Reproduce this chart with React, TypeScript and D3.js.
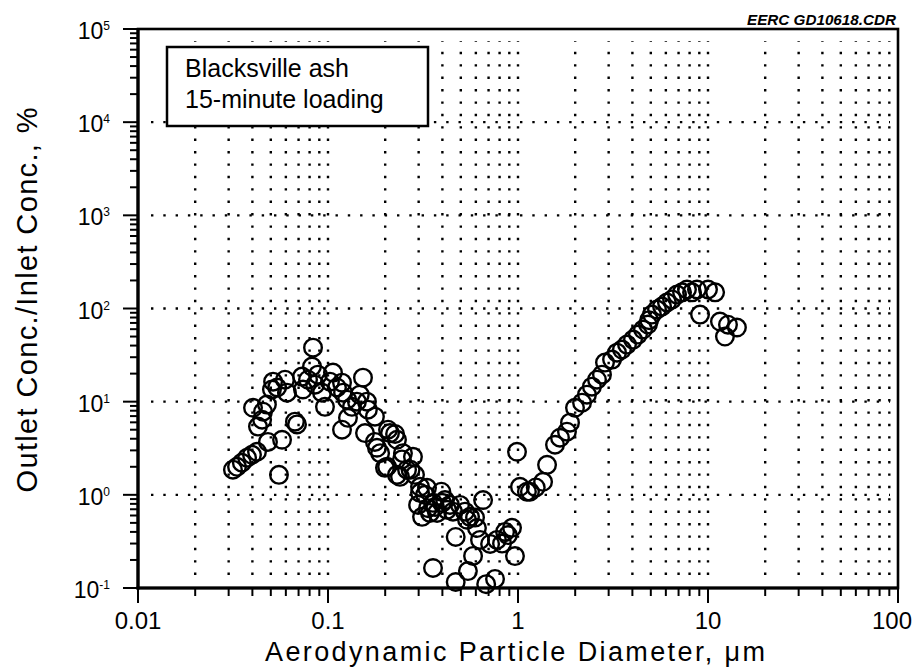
import React from "react";
import * as d3 from "d3";

// Penetration (outlet/inlet concentration) versus aerodynamic particle diameter
const diameterUm: number[] = [
  0.0316, 0.0332, 0.0352, 0.0375, 0.0398, 0.0423, 0.0403, 0.0455, 0.0477, 0.0428,
  0.045, 0.0483, 0.0573, 0.0552, 0.0514, 0.054, 0.0507, 0.0594, 0.0608, 0.067,
  0.0687, 0.073, 0.0738, 0.0785, 0.0834, 0.0824, 0.0855, 0.0885, 0.093, 0.0964,
  0.1024, 0.1062, 0.1115, 0.1185, 0.12, 0.126, 0.1185, 0.1274, 0.1337, 0.142,
  0.147, 0.1528, 0.1603, 0.1622, 0.1566, 0.1766, 0.1766, 0.181, 0.188, 0.2046,
  0.207, 0.212, 0.2254, 0.2307, 0.2307, 0.1995, 0.2393, 0.245, 0.248, 0.2606,
  0.272, 0.28, 0.287, 0.305, 0.305, 0.3126, 0.298, 0.324, 0.332, 0.336,
  0.344, 0.357, 0.366, 0.375, 0.395, 0.413, 0.398, 0.423, 0.4385, 0.455,
  0.495, 0.526, 0.559, 0.539, 0.594, 0.655, 0.608, 0.357, 0.47, 0.47,
  0.58, 0.545, 0.631, 0.713, 0.775, 0.824, 0.855, 0.885, 0.93, 0.964,
  0.68, 0.757,
  0.988, 1.024, 1.114, 1.156, 1.24, 1.355, 1.422, 1.566, 1.663, 1.81,
  1.878, 1.995, 2.173, 2.307, 2.449, 2.605, 2.767, 2.87, 3.126, 3.32,
  3.525, 3.747, 4.03, 4.28, 4.55, 4.83, 4.9, 5.07, 5.39, 5.73,
  6.08, 6.47, 6.87, 7.3, 7.75, 8.24, 8.75, 9.08, 10.0, 10.9,
  11.56, 12.74, 12.28, 14.2,
];

const concRatioPct: number[] = [
  1.86, 2.0, 2.21, 2.5, 2.69, 2.9, 8.6, 7.8, 9.3, 5.4,
  6.4, 3.7, 3.9, 1.64, 16.4, 14.2, 13.5, 17.2, 12.5, 6.1,
  5.7, 18.6, 13.5, 17.2, 38, 23.8, 15.2, 19.5, 12.5, 8.8,
  16.4, 20.5, 14.2, 16.0, 12.5, 10.5, 5.0, 6.7, 8.8, 10.0,
  11.9, 18.1, 10.0, 8.2, 4.6, 6.9, 3.7, 3.2, 2.8, 2.0,
  5.0, 4.6, 4.5, 3.9, 1.64, 1.95, 1.56, 2.4, 2.8, 1.86,
  1.86, 2.56, 1.64, 1.22, 1.05, 0.58, 0.78, 1.0, 1.19, 0.72,
  0.64, 0.82, 0.74, 0.64, 1.08, 0.88, 0.82, 0.69, 0.78, 0.66,
  0.78, 0.66, 0.58, 0.54, 0.57, 0.88, 0.44, 0.164, 0.353, 0.116,
  0.221, 0.152, 0.328, 0.297, 0.328, 0.3, 0.4, 0.37, 0.443, 0.22,
  0.11, 0.125,
  2.9, 1.22, 1.08, 1.08, 1.2, 1.38, 2.1, 3.45, 4.1, 4.76,
  5.95, 8.6, 9.76, 11.9, 14.5, 17.2, 19.5, 26.3, 28.3, 33.6,
  36.3, 41, 46.4, 52.5, 59.5, 67.3, 75, 86, 97.5, 105,
  116, 125, 141, 149, 160, 149, 160, 86, 160, 149,
  72.5, 67, 50, 62.5,
];

const xTickValues: number[] = [0.01, 0.1, 1, 10, 100];
const xTickLabels: string[] = ["0.01", "0.1", "1", "10", "100"];
const yExponents: number[] = [-1, 0, 1, 2, 3, 4, 5];
const legendLines: string[] = ["Blacksville ash", "15-minute loading"];

const W = 914;
const H = 670;
const FONT = "'Liberation Sans', Arial, Helvetica, sans-serif";

const x = d3.scaleLog().domain([0.01, 100]).range([138, 898]);
const y = d3.scaleLog().domain([0.1, 1e5]).range([588, 29]);

// minor positions 2..9 within each decade, plus the interior decades
function decadeSubdivisions(lo: number, hi: number, includeMajor: boolean) {
  const out: number[] = [];
  for (let e = lo; e < hi; e++) {
    const base = Math.pow(10, e);
    if (includeMajor && e > lo) out.push(base);
    for (let m = 2; m <= 9; m++) out.push(m * base);
  }
  return out;
}

export default function App() {
  const [x0, x1] = x.range();
  const [y0, y1] = y.range();
  const xGrid = decadeSubdivisions(-2, 2, true);
  const xMinor = decadeSubdivisions(-2, 2, false);
  const yMinor = decadeSubdivisions(-1, 5, false);
  const yGrid = yExponents.slice(1, -1).map((e) => Math.pow(10, e));
  const points = diameterUm.map((d, i) => [d, concRatioPct[i]] as [number, number]);

  return (
    <svg
      width={W}
      height={H}
      style={{ position: "absolute", left: 0, top: 0, background: "#fff" }}
      fontFamily={FONT}
    >
      {/* dotted grid */}
      <g stroke="#000" strokeWidth={2.4} fill="none">
        {xGrid.map((v, i) => (
          <line
            key={"vg" + i}
            x1={x(v)}
            x2={x(v)}
            y1={575}
            y2={41}
            strokeDasharray="2.4 10"
          />
        ))}
        {yGrid.map((v, i) => (
          <line
            key={"hg" + i}
            x1={151}
            x2={890}
            y1={y(v)}
            y2={y(v)}
            strokeDasharray="2.4 9.9"
          />
        ))}
      </g>

      {/* data points */}
      <g fill="none" stroke="#000" strokeWidth={2.4}>
        {points.map(([d, c], i) => (
          <circle key={"p" + i} cx={x(d)} cy={y(c)} r={8.8} />
        ))}
      </g>

      {/* frame */}
      <rect x={x0} y={y1} width={x1 - x0} height={y0 - y1} fill="none" stroke="#000" strokeWidth={2.6} />
      <line x1={x0} x2={x0} y1={y1} y2={y0 + 1.5} stroke="#000" strokeWidth={3.2} />
      <line x1={x0 - 1.5} x2={x1} y1={y0} y2={y0} stroke="#000" strokeWidth={3.2} />

      {/* ticks */}
      <g stroke="#000" strokeWidth={2}>
        {xTickValues.map((v, i) => (
          <line key={"xt" + i} x1={x(v)} x2={x(v)} y1={y0} y2={y0 + 15} />
        ))}
        {xMinor.map((v, i) => (
          <line key={"xm" + i} x1={x(v)} x2={x(v)} y1={y0} y2={y0 + 8} />
        ))}
        {yExponents.map((e, i) => (
          <line key={"yt" + i} x1={x0 - 15} x2={x0} y1={y(Math.pow(10, e))} y2={y(Math.pow(10, e))} />
        ))}
        {yMinor.map((v, i) => (
          <line key={"ym" + i} x1={x0 - 8} x2={x0} y1={y(v)} y2={y(v)} />
        ))}
      </g>

      {/* x tick labels */}
      <g fontSize={24} textAnchor="middle" fill="#000">
        {xTickValues.map((v, i) => (
          <text key={"xl" + i} x={x(v) - (i === xTickValues.length - 1 ? 6 : 0)} y={629}>
            {xTickLabels[i]}
          </text>
        ))}
      </g>

      {/* y tick labels */}
      <g fontSize={23} textAnchor="end" fill="#000">
        {yExponents.map((e, i) => (
          <text key={"yl" + i} x={110} y={y(Math.pow(10, e)) + 10}>
            10
            <tspan fontSize={12} dy={-9}>
              {e < 0 ? "-" + Math.abs(e) : String(e)}
            </tspan>
          </text>
        ))}
      </g>

      {/* axis titles */}
      <text
        x={515}
        y={661}
        fontSize={27}
        textAnchor="middle"
        textLength={500}
        lengthAdjust="spacing"
        fill="#000"
      >
        Aerodynamic Particle Diameter, μm
      </text>
      <text
        transform="translate(37,300) rotate(-90)"
        fontSize={29}
        textAnchor="middle"
        textLength={385}
        lengthAdjust="spacing"
        fill="#000"
      >
        Outlet Conc./Inlet Conc., %
      </text>

      {/* legend box */}
      <rect x={167} y={47} width={261} height={79} fill="#fff" stroke="#000" strokeWidth={2.5} />
      {legendLines.map((t, i) => (
        <text key={"lg" + i} x={185} y={77 + i * 31} fontSize={25} fill="#000">
          {t}
        </text>
      ))}

      {/* drawing id */}
      <text
        x={896}
        y={25}
        fontSize={14}
        fontWeight="bold"
        fontStyle="italic"
        textAnchor="end"
        textLength={149}
        lengthAdjust="spacingAndGlyphs"
        fill="#000"
      >
        EERC GD10618.CDR
      </text>
    </svg>
  );
}
